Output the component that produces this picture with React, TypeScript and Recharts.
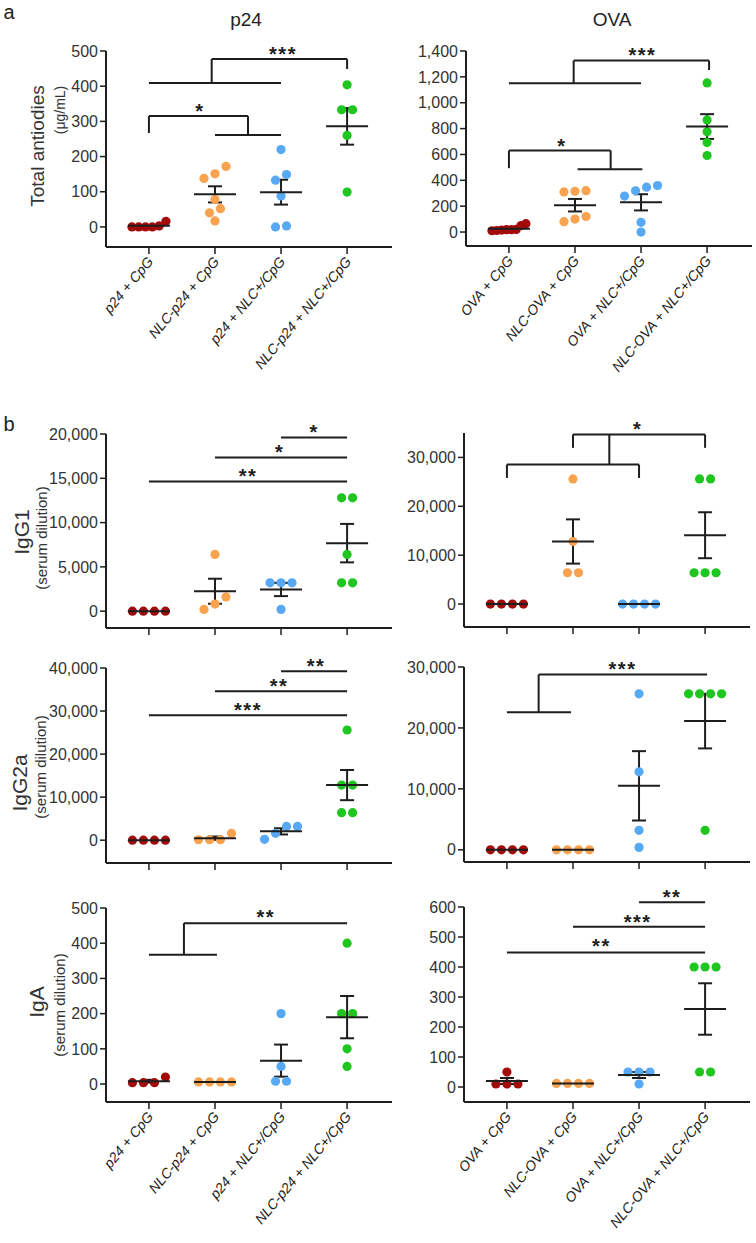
import React from 'react';
import { ComposedChart, Scatter, XAxis, YAxis, ReferenceLine, ReferenceDot, ErrorBar } from 'recharts';

const FONT = '"Liberation Sans", Arial, sans-serif';

const p24Groups = ['p24 + CpG', 'NLC-p24 + CpG', 'p24 + NLC+/CpG', 'NLC-p24 + NLC+/CpG'];
const ovaGroups = ['OVA + CpG', 'NLC-OVA + CpG', 'OVA + NLC+/CpG', 'NLC-OVA + NLC+/CpG'];
const groupColors = ['#a30b0b', '#f9a24f', '#58a9f3', '#1fc61f'];

// a: total antibodies (ug/mL), one array per group
const p24Total = [
  [0, 0, 0, 0, 3, 16],
  [172, 151, 138, 78, 52, 40, 17],
  [220, 149, 133, 88, 3, 0],
  [404, 333, 333, 260, 99],
];
const ovaTotal = [
  [65, 50, 20, 18, 18, 15, 12, 10],
  [320, 315, 310, 120, 100, 80],
  [360, 347, 319, 278, 75, 0],
  [1153, 867, 775, 692, 592],
];

// b: serum dilution titres
const p24IgG1 = [[0, 0, 0, 0], [6400, 1600, 800, 200], [3200, 3200, 3200, 200], [12800, 12800, 6400, 3200, 3200]];
const ovaIgG1 = [[0, 0, 0, 0], [25600, 12800, 6400, 6400], [0, 0, 0, 0], [25600, 25600, 6400, 6400, 6400]];
const p24IgG2a = [[0, 0, 0, 0], [1600, 100, 100, 100], [3200, 3200, 1600, 200], [25600, 12800, 12800, 6400, 6400]];
const ovaIgG2a = [[0, 0, 0, 0], [0, 0, 0, 0], [25600, 12800, 3200, 400], [25600, 25600, 25600, 25600, 3200]];
const p24IgA = [[20, 4, 4, 4], [6, 6, 6, 6], [200, 50, 8, 8], [400, 200, 200, 100, 50]];
const ovaIgA = [[50, 10, 10, 10], [12, 12, 12, 12], [50, 50, 50, 10], [400, 400, 400, 50, 50]];

// y ticks
const ticksP24Total = [0, 100, 200, 300, 400, 500];
const ticksOvaTotal = [0, 200, 400, 600, 800, 1000, 1200, 1400];
const ticksP24IgG1 = [0, 5000, 10000, 15000, 20000];
const ticksOvaIgG1 = [0, 10000, 20000, 30000];
const ticksP24IgG2a = [0, 10000, 20000, 30000, 40000];
const ticksOvaIgG2a = [0, 10000, 20000, 30000];
const ticksP24IgA = [0, 100, 200, 300, 400, 500];
const ticksOvaIgA = [0, 100, 200, 300, 400, 500, 600];

// significance brackets: polylines in (group index, value)
type Pt = [number, number];
const bracketsP24Total: Pt[][] = [
  [[0, 409], [2, 409]],
  [[0.95, 409], [0.95, 477], [3, 477], [3, 449]],
  [[0, 267], [0, 315], [1.5, 315], [1.5, 261]],
  [[1, 261], [2, 261]],
];
const starsP24Total = [{ x: 2.03, y: 503, t: '***' }, { x: 0.77, y: 341, t: '*' }];

const bracketsOvaTotal: Pt[][] = [
  [[0, 1150], [2, 1150]],
  [[0.98, 1150], [0.98, 1326], [3.03, 1326], [3.03, 1253]],
  [[0, 494], [0, 630], [1.54, 630], [1.54, 486]],
  [[1.04, 486], [2.02, 486]],
];
const starsOvaTotal = [{ x: 2.02, y: 1403, t: '***' }, { x: 0.8, y: 698, t: '*' }];

const bracketsP24IgG1: Pt[][] = [
  [[2, 19600], [3, 19600]],
  [[1, 17350], [3, 17350]],
  [[0, 14630], [3, 14630]],
];
const starsP24IgG1 = [{ x: 2.5, y: 20750, t: '*' }, { x: 1.98, y: 18450, t: '*' }, { x: 1.5, y: 15800, t: '**' }];

const bracketsOvaIgG1: Pt[][] = [
  [[1, 31960], [1, 34700], [3, 34700], [3, 31960]],
  [[1.55, 34700], [1.55, 28540]],
  [[0, 25800], [0, 28540], [2, 28540], [2, 25800]],
];
const starsOvaIgG1 = [{ x: 1.98, y: 36750, t: '*' }];

const bracketsP24IgG2a: Pt[][] = [
  [[2, 39226], [3, 39226]],
  [[1, 34584], [3, 34584]],
  [[0, 29014], [3, 29014]],
];
const starsP24IgG2a = [{ x: 2.53, y: 41550, t: '**' }, { x: 1.97, y: 36750, t: '**' }, { x: 1.5, y: 31180, t: '***' }];

const bracketsOvaIgG2a: Pt[][] = [
  [[0.48, 22575], [0.48, 28770], [3.03, 28770]],
  [[0, 22575], [0.97, 22575]],
];
const starsOvaIgG2a = [{ x: 1.75, y: 30400, t: '***' }];

const bracketsP24IgA: Pt[][] = [
  [[0.53, 367], [0.53, 457], [3, 457]],
  [[0, 367], [1.03, 367]],
];
const starsP24IgA = [{ x: 1.77, y: 486, t: '**' }];

const bracketsOvaIgA: Pt[][] = [
  [[2, 616], [3, 616]],
  [[1, 534], [3, 534]],
  [[0, 448], [3, 448]],
];
const starsOvaIgA = [{ x: 2.5, y: 649, t: '**' }, { x: 1.98, y: 566, t: '***' }, { x: 1.43, y: 484, t: '**' }];

const PLOT_W = 286;
const YW = 90;
const MT = 50;
const MR = 6;
const X_DOMAIN: [number, number] = [-0.65, 3.68];
const INK = '#1e1e1e';

// spread dots that sit at (nearly) the same height into a centred row
function spreadOffsets(vals: number[], pxPerUnit: number): number[] {
  const order = vals.map((_, i) => i).sort((a, b) => vals[b] - vals[a]);
  const offs = new Array(vals.length).fill(0);
  let i = 0;
  while (i < order.length) {
    let j = i;
    while (j + 1 < order.length && (vals[order[j]] - vals[order[j + 1]]) * pxPerUnit < 7.5) j++;
    const row = order.slice(i, j + 1).reverse();
    const n = row.length;
    const step = n > 1 ? Math.min(11, 34 / (n - 1)) : 0;
    row.forEach((idx, k) => {
      offs[idx] = (k - (n - 1) / 2) * step;
    });
    i = j + 1;
  }
  return offs;
}

function meanSem(vals: number[]) {
  const n = vals.length;
  const mean = vals.reduce((s, v) => s + v, 0) / n;
  const sd = Math.sqrt(vals.reduce((s, v) => s + (v - mean) ** 2, 0) / (n - 1));
  return { mean, sem: sd / Math.sqrt(n) };
}

const fmt = (v: number) => v.toLocaleString('en-US');

const CatTick = (props: any) => {
  const { x, y, payload, names } = props;
  const label = names ? names[payload.value] : '';
  if (!label) return <g />;
  const ax = x + 5;
  const ay = y + 6;
  return (
    <text x={ax} y={ay} transform={`rotate(-50 ${ax} ${ay})`} textAnchor="end" fontSize={14}
      fontStyle="italic" fill="#222" fontFamily={FONT}>
      {label}
    </text>
  );
};

interface PanelProps {
  axisX: number;
  top: number;
  bottom: number;
  domain: [number, number];
  ticks: number[];
  values: number[][];
  brackets: Pt[][];
  stars: { x: number; y: number; t: string }[];
  names?: string[];
}

function Panel({ axisX, top, bottom, domain, ticks, values, brackets, stars, names }: PanelProps) {
  const plotH = bottom - top;
  const pxPerUnit = plotH / (domain[1] - domain[0]);
  const unitPerPx = (X_DOMAIN[1] - X_DOMAIN[0]) / PLOT_W;
  const xh = names ? 150 : 14;

  const groups = values.map((vals, g) => {
    const offs = spreadOffsets(vals, pxPerUnit);
    return vals.map((v, i) => ({ x: g + offs[i] * unitPerPx, y: v }));
  });
  const means = values.map((vals, g) => {
    const { mean, sem } = meanSem(vals);
    return { x: g, y: mean, sem };
  });
  const segments = brackets.flatMap((path) => path.slice(1).map((p, i) => [path[i], p]));

  return (
    <div style={{ position: 'absolute', left: axisX - YW, top: top - MT }}>
      <ComposedChart width={YW + PLOT_W + MR} height={MT + plotH + xh}
        margin={{ top: MT, right: MR, bottom: 0, left: 0 }}>
        <XAxis dataKey="x" type="number" domain={X_DOMAIN} allowDataOverflow ticks={[0, 1, 2, 3]}
          interval={0} height={xh} tickSize={7} axisLine={{ stroke: INK, strokeWidth: 2 }}
          tickLine={{ stroke: INK, strokeWidth: 1.5 }} tick={<CatTick names={names} />} />
        <YAxis dataKey="y" type="number" domain={domain} allowDataOverflow ticks={ticks} interval={0}
          width={YW} tickSize={6} tickMargin={2} tickFormatter={fmt}
          axisLine={{ stroke: INK, strokeWidth: 2 }} tickLine={{ stroke: INK, strokeWidth: 1.5 }}
          tick={{ fill: '#333', fontSize: 16, fontFamily: FONT }} />
        {segments.map((s, i) => (
          <ReferenceLine key={'s' + i} segment={[{ x: s[0][0], y: s[0][1] }, { x: s[1][0], y: s[1][1] }]}
            stroke={INK} strokeWidth={2} ifOverflow="visible" />
        ))}
        {stars.map((s, i) => (
          <ReferenceDot key={'t' + i} x={s.x} y={s.y} r={0} ifOverflow="visible"
            shape={(p: any) => (
              <text x={p.cx} y={p.cy + 11.5} textAnchor="middle" fontSize={20} fontWeight="bold"
                letterSpacing={1.5} fill={INK} fontFamily={FONT}>{s.t}</text>
            )} />
        ))}
        {groups.map((pts, g) => (
          <Scatter key={'g' + g} data={pts} isAnimationActive={false}
            shape={(p: any) => <circle cx={p.cx} cy={p.cy} r={4.6} fill={groupColors[g]} />} />
        ))}
        <Scatter data={means} isAnimationActive={false}
          shape={(p: any) => (
            <line x1={p.cx - 21} x2={p.cx + 21} y1={p.cy} y2={p.cy} stroke={INK} strokeWidth={2} />
          )}>
          <ErrorBar dataKey="sem" direction="y" width={7} stroke={INK} strokeWidth={2} isAnimationActive={false} />
        </Scatter>
      </ComposedChart>
    </div>
  );
}

const Rot = ({ x, y, size, text }: { x: number; y: number; size: number; text: string }) => (
  <div style={{
    position: 'absolute', left: x, top: y, transform: 'translate(-50%, -50%) rotate(-90deg)',
    whiteSpace: 'nowrap', fontSize: size, color: '#333', lineHeight: 1,
  }}>{text}</div>
);

const Txt = ({ x, y, size, text }: { x: number; y: number; size: number; text: string }) => (
  <div style={{
    position: 'absolute', left: x, top: y, transform: 'translate(-50%, -50%)',
    whiteSpace: 'nowrap', fontSize: size, color: '#222', lineHeight: 1.2,
  }}>{text}</div>
);

export default function App() {
  return (
    <div style={{
      position: 'absolute', left: 0, top: 0, width: 756, height: 1243, background: '#fff',
      fontFamily: FONT, overflow: 'hidden',
    }}>
      <Txt x={9} y={12} size={20} text="a" />
      <Txt x={9} y={424} size={20} text="b" />
      <Txt x={246} y={20} size={19} text="p24" />
      <Txt x={612} y={20} size={19} text="OVA" />

      <Rot x={37} y={146} size={19} text="Total antiodies" />
      <Rot x={60} y={110} size={14} text="(μg/mL)" />
      <Rot x={21} y={532} size={21} text="IgG1" />
      <Rot x={41} y={538} size={15} text="(serum dilution)" />
      <Rot x={19} y={783} size={21} text="IgG2a" />
      <Rot x={40} y={767} size={15} text="(serum dilution)" />
      <Rot x={36} y={1002} size={21} text="IgA" />
      <Rot x={59} y={1005} size={15} text="(serum dilution)" />

      <Panel axisX={106} top={51} bottom={247} domain={[-57, 500]} ticks={ticksP24Total}
        values={p24Total} brackets={bracketsP24Total} stars={starsP24Total} names={p24Groups} />
      <Panel axisX={466} top={51} bottom={246} domain={[-108, 1400]} ticks={ticksOvaTotal}
        values={ovaTotal} brackets={bracketsOvaTotal} stars={starsOvaTotal} names={ovaGroups} />

      <Panel axisX={106} top={434} bottom={628} domain={[-1900, 20000]} ticks={ticksP24IgG1}
        values={p24IgG1} brackets={bracketsP24IgG1} stars={starsP24IgG1} />
      <Panel axisX={464} top={433} bottom={627} domain={[-4700, 35000]} ticks={ticksOvaIgG1}
        values={ovaIgG1} brackets={bracketsOvaIgG1} stars={starsOvaIgG1} />

      <Panel axisX={106} top={668} bottom={863} domain={[-5300, 40000]} ticks={ticksP24IgG2a}
        values={p24IgG2a} brackets={bracketsP24IgG2a} stars={starsP24IgG2a} />
      <Panel axisX={464} top={667} bottom={862} domain={[-2000, 30000]} ticks={ticksOvaIgG2a}
        values={ovaIgG2a} brackets={bracketsOvaIgG2a} stars={starsOvaIgG2a} />

      <Panel axisX={106} top={908} bottom={1102} domain={[-51, 500]} ticks={ticksP24IgA}
        values={p24IgA} brackets={bracketsP24IgA} stars={starsP24IgA} names={p24Groups} />
      <Panel axisX={464} top={907} bottom={1102} domain={[-50, 600]} ticks={ticksOvaIgA}
        values={ovaIgA} brackets={bracketsOvaIgA} stars={starsOvaIgA} names={ovaGroups} />
    </div>
  );
}
